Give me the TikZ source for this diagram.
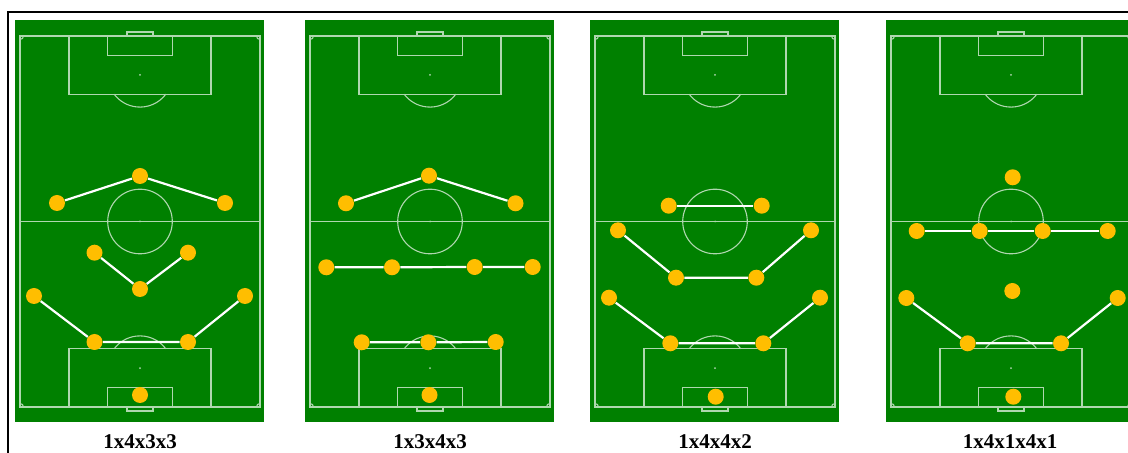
\documentclass[tikz,border=0pt]{standalone}
\usepackage{fontspec}
\setmainfont{Liberation Serif}
\definecolor{turf}{RGB}{0,128,0}
\definecolor{chalk}{RGB}{175,215,175}
\definecolor{shirt}{RGB}{255,190,0}
\usetikzlibrary{positioning,backgrounds}

\begin{document}
\begin{tikzpicture}[
  x=0.5pt, y=0.5pt,
  player/.style={circle, fill=shirt, minimum size=8pt, inner sep=0pt},
  link/.style={white, line width=1.1pt},
  chalkline/.style={draw=chalk, line width=0.55pt},
  caption/.style={font=\bfseries\fontsize{10.5}{12}\selectfont}
]
  \useasboundingbox (0,0) rectangle (1128,-453);
  \draw[line width=1pt] (1130,-12) -- (8,-12) -- (8,-455);

  % the four pitches
  \begin{scope}[on background layer]
  \foreach \cx in {140,430,715,1011} {
    \fill[turf] (\cx-125,-20) rectangle (\cx+124,-422);
    \draw[chalkline] (\cx-120,-36) rectangle (\cx+120,-407);
    \draw[chalkline] (\cx-120,-221.5) -- (\cx+120,-221.5);
    \draw[chalkline] (\cx,-221.5) circle[radius=32.3];
    \fill[chalk] (\cx,-221.5) circle[radius=1];
    % top end
    \draw[chalkline] (\cx-71,-36) rectangle (\cx+71,-94.2);
    \draw[chalkline] (\cx-32.3,-36) rectangle (\cx+32.3,-55.4);
    \draw[chalkline] (\cx-13,-36) rectangle (\cx+13,-32);
    \fill[chalk] (\cx,-74.8) circle[radius=1];
    \draw[chalkline] (\cx+25.8,-94.2) arc[start angle=-36.9, end angle=-143.1, radius=32.3];
    % bottom end
    \draw[chalkline] (\cx-71,-407) rectangle (\cx+71,-348.8);
    \draw[chalkline] (\cx-32.3,-407) rectangle (\cx+32.3,-387.6);
    \draw[chalkline] (\cx-13,-407) rectangle (\cx+13,-411);
    \fill[chalk] (\cx,-368.2) circle[radius=1];
    \draw[chalkline] (\cx+25.8,-348.8) arc[start angle=36.9, end angle=143.1, radius=32.3];
    % corners
    \draw[chalkline] (\cx-120,-39.5) arc[start angle=-90, end angle=0, radius=3.5];
    \draw[chalkline] (\cx+116.5,-36) arc[start angle=180, end angle=270, radius=3.5];
    \draw[chalkline] (\cx-116.5,-407) arc[start angle=0, end angle=90, radius=3.5];
    \draw[chalkline] (\cx+120,-403.5) arc[start angle=90, end angle=180, radius=3.5];
  }
  \end{scope}

  % 1x4x3x3
  \node[player] (a1) at (140,-395) {};
  \node[player] (a2) at (34,-296) {};
  \node[player] (a3) at (94.5,-342) {};
  \node[player] (a4) at (188,-342) {};
  \node[player] (a5) at (245,-296) {};
  \node[player] (a6) at (94.5,-252.7) {};
  \node[player] (a7) at (140,-289) {};
  \node[player] (a8) at (188,-252.7) {};
  \node[player] (a9) at (57,-203) {};
  \node[player] (a10) at (140,-176) {};
  \node[player] (a11) at (225,-203) {};

  % 1x3x4x3
  \node[player] (b1) at (429.5,-395) {};
  \node[player] (b2) at (361.7,-342.3) {};
  \node[player] (b3) at (428.3,-342.3) {};
  \node[player] (b4) at (495.7,-342) {};
  \node[player] (b5) at (326.3,-267.3) {};
  \node[player] (b6) at (392,-267.3) {};
  \node[player] (b7) at (474.7,-267) {};
  \node[player] (b8) at (532.7,-267) {};
  \node[player] (b9) at (346,-203.3) {};
  \node[player] (b10) at (429,-175.7) {};
  \node[player] (b11) at (515.5,-203.3) {};

  % 1x4x4x2
  \node[player] (c1) at (715.7,-396.7) {};
  \node[player] (c2) at (609,-297.7) {};
  \node[player] (c3) at (670.3,-343.3) {};
  \node[player] (c4) at (763.3,-343.3) {};
  \node[player] (c5) at (820,-297.7) {};
  \node[player] (c6) at (618,-230.3) {};
  \node[player] (c7) at (676,-277.7) {};
  \node[player] (c8) at (756.3,-277.7) {};
  \node[player] (c9) at (811,-230.3) {};
  \node[player] (c10) at (668.7,-205.7) {};
  \node[player] (c11) at (761.7,-205.7) {};

  % 1x4x1x4x1
  \node[player] (d1) at (1013.3,-396.7) {};
  \node[player] (d2) at (906.3,-298) {};
  \node[player] (d3) at (967.7,-343.3) {};
  \node[player] (d4) at (1061,-343.3) {};
  \node[player] (d5) at (1117.7,-298) {};
  \node[player] (d6) at (1012.3,-291) {};
  \node[player] (d7) at (916.7,-231) {};
  \node[player] (d8) at (979.7,-231) {};
  \node[player] (d9) at (1042.7,-231) {};
  \node[player] (d10) at (1107.7,-231) {};
  \node[player] (d11) at (1012.7,-177.3) {};

  \begin{scope}[on background layer]
  \draw[link] (a2) -- (a3) -- (a4) -- (a5);
  \draw[link] (a6) -- (a7) -- (a8);
  \draw[link] (a9) -- (a10) -- (a11);
  \draw[link] (b2) -- (b3) -- (b4);
  \draw[link] (b5) -- (b6) -- (b7) -- (b8);
  \draw[link] (b9) -- (b10) -- (b11);
  \draw[link] (c2) -- (c3) -- (c4) -- (c5);
  \draw[link] (c6) -- (c7) -- (c8) -- (c9);
  \draw[link] (c10) -- (c11);
  \draw[link] (d2) -- (d3) -- (d4) -- (d5);
  \draw[link] (d7) -- (d8) -- (d9) -- (d10);
  \end{scope}

  \node[caption] (capA) at (140,-441.5) {1x4x3x3};
  \node[caption] (capB) at (430,-441.5) {1x3x4x3};
  \node[caption] (capC) at (715,-441.5) {1x4x4x2};
  \node[caption] (capD) at (1010,-441.5) {1x4x1x4x1};
\end{tikzpicture}
\end{document}
